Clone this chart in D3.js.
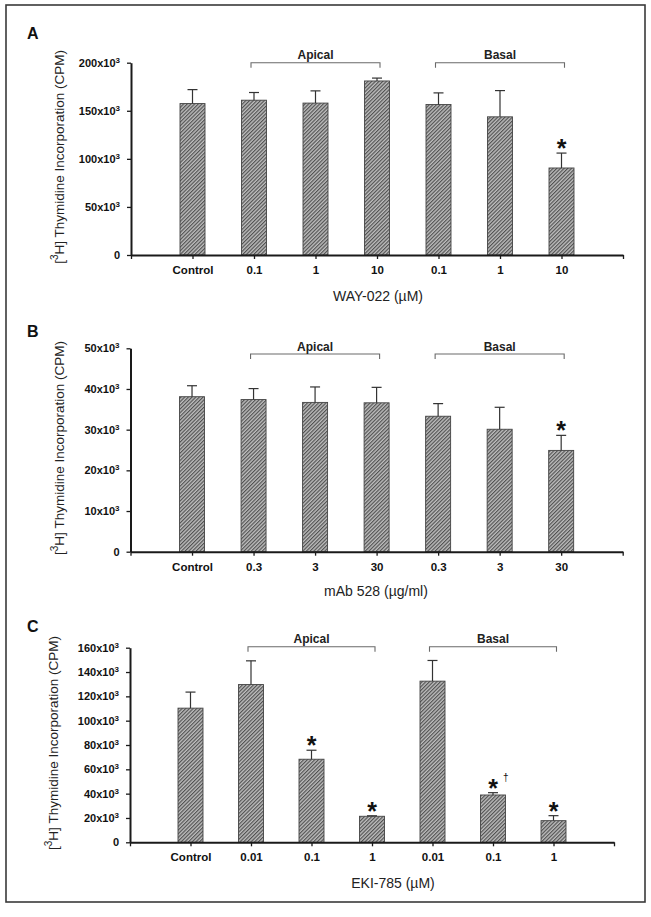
<!DOCTYPE html>
<html>
<head>
<meta charset="utf-8">
<script src="https://cdn.jsdelivr.net/npm/d3@7"></script>
<style>
  html, body { margin: 0; padding: 0; background: #fff; }
  svg { display: block; font-family: "Liberation Sans", Arial, sans-serif; }
</style>
</head>
<body>
<script>
// ---------------- DATA ----------------
const categoriesA = ["Control", "0.1", "1", "10", "0.1", "1", "10"];
const valuesA = [157500, 161000, 158000, 181000, 156500, 143700, 90500];
const errorsA = [14500, 8000, 12700, 3000, 12100, 27300, 15500];
const marksA = ["", "", "", "", "", "", "*"];
const yTicksA = [0, 50000, 100000, 150000, 200000];
const xTitleA = "WAY-022 (\u00B5M)";

const categoriesB = ["Control", "0.3", "3", "30", "0.3", "3", "30"];
const valuesB = [38100, 37400, 36700, 36600, 33300, 30100, 24900];
const errorsB = [2700, 2700, 3800, 3800, 3100, 5400, 3700];
const marksB = ["", "", "", "", "", "", "*"];
const yTicksB = [0, 10000, 20000, 30000, 40000, 50000];
const xTitleB = "mAb 528 (\u00B5g/ml)";

const categoriesC = ["Control", "0.01", "0.1", "1", "0.01", "0.1", "1"];
const valuesC = [110300, 129700, 68300, 21400, 132500, 38900, 17800];
const errorsC = [13200, 19500, 7400, 400, 17000, 1900, 4100];
const marksC = ["", "", "*", "*", "", "*\u2020", "*"];
const yTicksC = [0, 20000, 40000, 60000, 80000, 100000, 120000, 140000, 160000];
const xTitleC = "EKI-785 (\u00B5M)";

// groups refer to category indexes (0 = Control)
const groups = [
  { label: "Apical", from: 1, to: 3 },
  { label: "Basal", from: 4, to: 6 }
];
const yTitleMain = "H] Thymidine Incorporation (CPM)";

// ---------------- LAYOUT ----------------
const W = 651, H = 917;
const svg = d3.select("body").append("svg").attr("width", W).attr("height", H);

const defs = svg.append("defs");
const pat = defs.append("pattern")
  .attr("id", "hatch")
  .attr("patternUnits", "userSpaceOnUse")
  .attr("width", 2.6).attr("height", 2.6)
  .attr("patternTransform", "rotate(45)");
pat.append("rect").attr("width", 2.6).attr("height", 2.6).attr("fill", "#bebebe");
pat.append("line").attr("x1", 0.6).attr("y1", 0).attr("x2", 0.6).attr("y2", 2.6)
  .attr("stroke", "#4a4a4a").attr("stroke-width", 1.1);

// outer frame
svg.append("rect").attr("x", 6).attr("y", 5).attr("width", 639).attr("height", 897)
  .attr("fill", "none").attr("stroke", "#3a3a3a").attr("stroke-width", 1.6);

const panels = [
  { letter: "A", cats: categoriesA, vals: valuesA, errs: errorsA, marks: marksA, ticks: yTicksA, xTitle: xTitleA,
    x0: 131, x1: 623, yTop: 62.7, yBot: 255, ymax: 200000, bracketY: 62.7, titleX: 64, labelX: 378, labelY: 301, letterY: 39 },
  { letter: "B", cats: categoriesB, vals: valuesB, errs: errorsB, marks: marksB, ticks: yTicksB, xTitle: xTitleB,
    x0: 130.5, x1: 622.7, yTop: 348.3, yBot: 551.7, ymax: 50000, bracketY: 354, titleX: 64, labelX: 376, labelY: 596, letterY: 337 },
  { letter: "C", cats: categoriesC, vals: valuesC, errs: errorsC, marks: marksC, ticks: yTicksC, xTitle: xTitleC,
    x0: 130, x1: 614, yTop: 647.7, yBot: 842.3, ymax: 160000, bracketY: 646.7, titleX: 58, labelX: 393, labelY: 888, letterY: 632 }
];

const barW = 25;

panels.forEach(p => {
  const g = svg.append("g");
  const x = d3.scaleLinear().domain([0, p.cats.length + 1]).range([p.x0, p.x1]);
  const y = d3.scaleLinear().domain([0, p.ymax]).range([p.yBot, p.yTop]);
  const pos = i => x(i + 1);

  // panel letter
  g.append("text").attr("x", 27).attr("y", p.letterY)
    .attr("font-size", 16).attr("font-weight", "bold").attr("fill", "#111").text(p.letter);

  // bars
  p.vals.forEach((v, i) => {
    const cx = pos(i);
    g.append("rect")
      .attr("x", cx - barW / 2).attr("y", y(v))
      .attr("width", barW).attr("height", y(0) - y(v))
      .attr("fill", "url(#hatch)").attr("stroke", "#444").attr("stroke-width", 0.9);
    const et = y(v + p.errs[i]);
    g.append("line").attr("x1", cx).attr("x2", cx).attr("y1", y(v)).attr("y2", et)
      .attr("stroke", "#333").attr("stroke-width", 1.2);
    g.append("line").attr("x1", cx - 5).attr("x2", cx + 5).attr("y1", et).attr("y2", et)
      .attr("stroke", "#333").attr("stroke-width", 1.2);
    const m = p.marks[i];
    if (m) {
      g.append("text").attr("x", cx).attr("y", et + 4)
        .attr("text-anchor", "middle").attr("font-size", 25).attr("font-weight", "bold")
        .attr("fill", "#111").text("*");
      if (m.length > 1) {
        g.append("text").attr("x", cx + 10).attr("y", et - 12)
          .attr("font-size", 10).attr("fill", "#111").text(m.slice(1));
      }
    }
  });

  // y axis
  const yAxis = d3.axisLeft(y).tickValues(p.ticks).tickSize(4).tickSizeOuter(0).tickPadding(7)
    .tickFormat(d => d === 0 ? "0" : String(d / 1000));
  const ya = g.append("g").attr("transform", `translate(${p.x0},0)`).call(yAxis);
  ya.select(".domain").attr("stroke", "#1a1a1a").attr("stroke-width", 2);
  ya.selectAll(".tick line").attr("stroke", "#1a1a1a").attr("stroke-width", 1.3);
  ya.selectAll(".tick text")
    .attr("font-size", 11).attr("font-weight", "bold").attr("fill", "#111")
    .attr("font-family", "Liberation Sans, Arial, sans-serif")
    .each(function(d) {
      if (d === 0) return;
      const t = d3.select(this);
      const base = String(d / 1000);
      t.text(null);
      t.append("tspan").text(base + "x10");
      t.append("tspan").attr("dy", -4).attr("font-size", 8).text("3");
    });

  // x axis
  const xAxis = d3.axisBottom(x).tickValues(d3.range(0, p.cats.length + 2)).tickSize(4)
    .tickSizeOuter(0).tickPadding(7)
    .tickFormat(d => (d >= 1 && d <= p.cats.length) ? p.cats[d - 1] : "");
  const xa = g.append("g").attr("transform", `translate(0,${p.yBot})`).call(xAxis);
  xa.select(".domain").attr("stroke", "#1a1a1a").attr("stroke-width", 2);
  xa.selectAll(".tick line").attr("stroke", "#1a1a1a").attr("stroke-width", 1.3);
  xa.selectAll(".tick text").attr("font-size", 11.5).attr("font-weight", "bold").attr("fill", "#111")
    .attr("font-family", "Liberation Sans, Arial, sans-serif");

  // x title
  g.append("text").attr("x", p.labelX).attr("y", p.labelY).attr("text-anchor", "middle")
    .attr("font-size", 14).attr("fill", "#222").text(p.xTitle);

  // y title
  const cy = (p.yTop + p.yBot) / 2 - 2;
  const yt = g.append("text").attr("transform", `translate(${p.titleX},${cy}) rotate(-90)`)
    .attr("text-anchor", "middle").attr("font-size", 13.5).attr("fill", "#222");
  yt.append("tspan").text("[");
  yt.append("tspan").attr("dy", -6).attr("font-size", 10).text("3");
  yt.append("tspan").attr("dy", 6).text(yTitleMain);

  // brackets
  groups.forEach(gr => {
    const bx0 = pos(gr.from) - 3, bx1 = pos(gr.to) + 3, by = p.bracketY;
    g.append("path")
      .attr("d", `M${bx0},${by + 5}V${by}H${bx1}V${by + 5}`)
      .attr("fill", "none").attr("stroke", "#6a6a6a").attr("stroke-width", 1.1);
    g.append("text").attr("x", (bx0 + bx1) / 2).attr("y", by - 3.5).attr("text-anchor", "middle")
      .attr("font-size", 12).attr("font-weight", "bold").attr("fill", "#222").text(gr.label);
  });
});
</script>
</body>
</html>
